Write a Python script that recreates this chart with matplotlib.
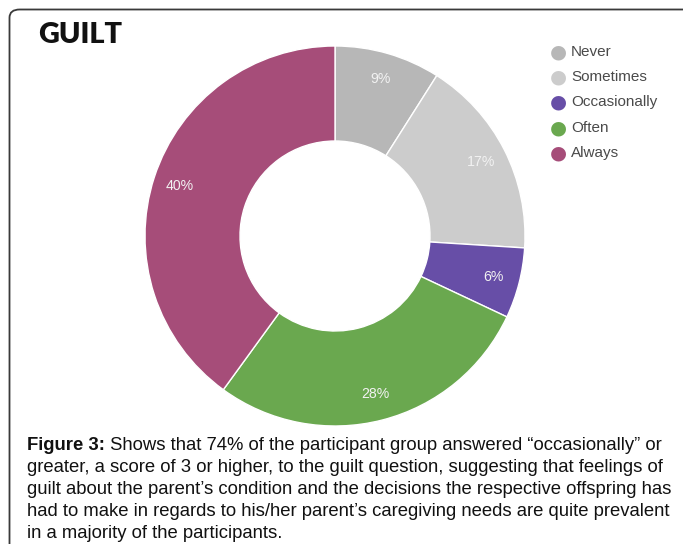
import matplotlib
matplotlib.use("Agg")
import matplotlib.pyplot as plt
import numpy as np
from matplotlib.patches import FancyBboxPatch

categories = ["Never", "Sometimes", "Occasionally", "Often", "Always"]
percentages = [9, 17, 6, 28, 40]
colors = ["#b7b7b7", "#cccccc", "#674ea7", "#6aa84f", "#a64d79"]

title = "GUILT"
caption_bold = "Figure 3:"
caption_lines = [
    " Shows that 74% of the participant group answered \u201coccasionally\u201d or",
    "greater, a score of 3 or higher, to the guilt question, suggesting that feelings of",
    "guilt about the parent\u2019s condition and the decisions the respective offspring has",
    "had to make in regards to his/her parent\u2019s caregiving needs are quite prevalent",
    "in a majority of the participants.",
]

W, H = 683, 544
fig = plt.figure(figsize=(W / 100, H / 100), dpi=100)
fig.patch.set_facecolor("white")

# frame around the figure panel (open to the right and bottom)
frame = FancyBboxPatch((9.5 / W, -0.05), 1.1, (H - 9.5) / H + 0.05,
                       boxstyle="round,pad=0,rounding_size=0.015",
                       transform=fig.transFigure, facecolor="none",
                       edgecolor="#3a3a3a", linewidth=1.3, clip_on=False)
fig.patches.append(frame)

# donut
cx, cy, r = 335, 236, 190
ax = fig.add_axes([(cx - r) / W, (H - cy - r) / H, 2 * r / W, 2 * r / H])
ax.pie(percentages, colors=colors, startangle=90, counterclock=False, radius=1.0,
       wedgeprops=dict(width=0.5, edgecolor="white", linewidth=1.0))
cum = np.cumsum([0] + percentages)
for i, v in enumerate(percentages):
    mid = (cum[i] + v / 2) / 100 * 2 * np.pi
    rr = 0.86
    ax.text(rr * np.sin(mid), rr * np.cos(mid), f"{v}%", ha="center", va="center",
            color="#f2f2f2", fontsize=10.2, family="Liberation Sans")
ax.set_xlim(-1, 1)
ax.set_ylim(-1, 1)
ax.set_aspect("equal")
ax.axis("off")

# title
fig.text(38 / W, 1 - 35 / H, title, fontsize=20.8, fontweight="heavy",
         family="Lato", color="#111111", va="center", ha="left")

# legend
leg_y = [52, 77, 102, 128, 153]
for name, col, y in zip(categories, colors, leg_y):
    fig.text(558 / W, 1 - y / H, "\u25cf", color=col, fontsize=14, ha="center",
             va="center", family="DejaVu Sans")
    fig.text(571 / W, 1 - y / H, name, color="#4a4a4a", fontsize=11,
             family="Liberation Sans", ha="left", va="center")

# caption
line_y = [445, 468, 490, 512, 534]
fs = 13.35
fam = "Liberation Sans"
tb = fig.text(27 / W, 1 - line_y[0] / H, caption_bold, fontsize=fs, fontweight="bold",
              family=fam, va="center", ha="left", color="#111111")
renderer = fig.canvas.get_renderer()
bb = tb.get_window_extent(renderer=renderer)
fig.text(bb.x1 / W, 1 - line_y[0] / H, caption_lines[0], fontsize=fs, family=fam,
         va="center", ha="left", color="#111111")
for line, y in zip(caption_lines[1:], line_y[1:]):
    fig.text(27 / W, 1 - y / H, line, fontsize=fs, family=fam, va="center",
             ha="left", color="#111111")

fig.savefig("out.png", dpi=100)
